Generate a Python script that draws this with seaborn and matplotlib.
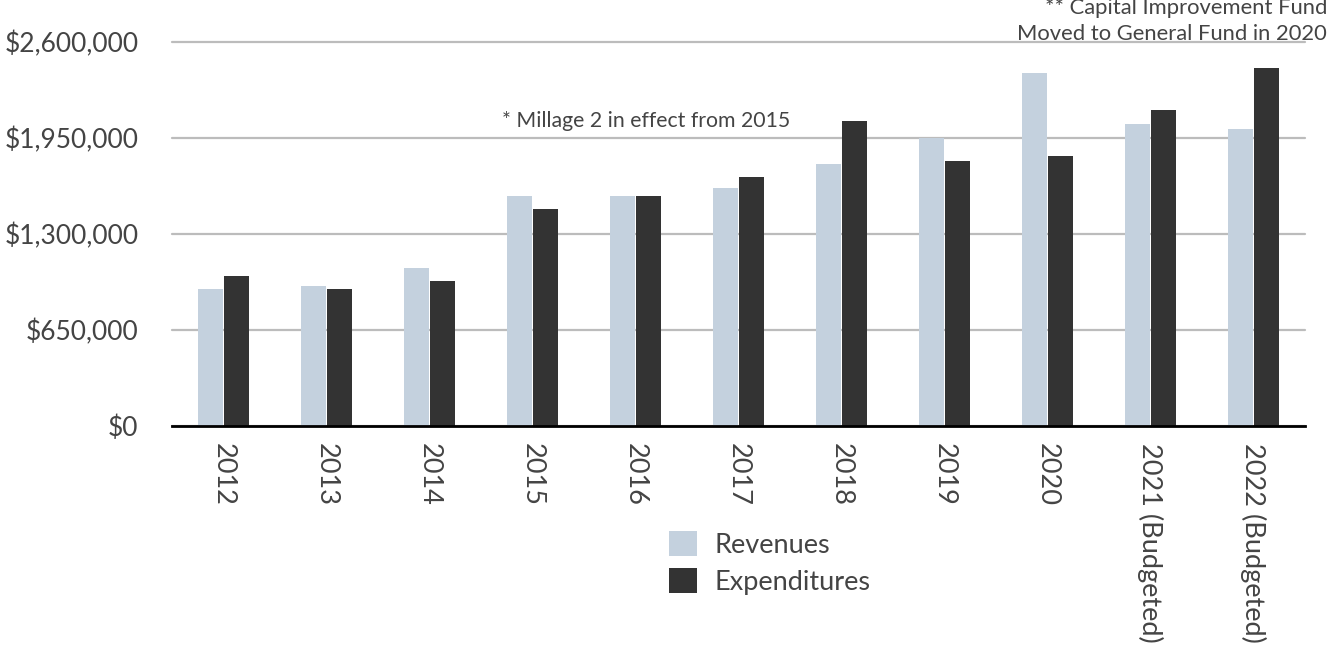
import matplotlib
matplotlib.use("Agg")
import matplotlib.pyplot as plt
import seaborn as sns
import pandas as pd
from matplotlib.patches import Patch
from matplotlib.ticker import FuncFormatter

years = ["2012", "2013", "2014", "2015", "2016", "2017", "2018", "2019", "2020",
         "2021 (Budgeted)", "2022 (Budgeted)"]
revenues = [928000, 949000, 1071000, 1558000, 1558000, 1613000, 1775000, 1947000,
            2392000, 2046000, 2012000]
expenditures = [1016000, 928000, 983000, 1470000, 1558000, 1687000, 2067000, 1796000,
                1830000, 2141000, 2426000]
series_names = ["Revenues", "Expenditures"]
yticks = [0, 650000, 1300000, 1950000, 2600000]
note1 = "* Millage 2 in effect from 2015"
note2 = ["** Capital Improvement Fund", "Moved to General Fund in 2020"]

df = pd.DataFrame({
    "Year": years * 2,
    "Value": revenues + expenditures,
    "Series": [series_names[0]] * len(years) + [series_names[1]] * len(years),
})

sns.set_theme(style="white")
plt.rcParams["font.family"] = ["Lato", "DejaVu Sans"]
TXT = "#444444"
colors = {"Revenues": "#c4d1de", "Expenditures": "#333333"}

fig = plt.figure(figsize=(13.31, 6.49), dpi=100)
ax = fig.add_axes([172 / 1331, 1 - 426 / 649, (1305 - 172) / 1331, (426 - 42) / 649])

sns.barplot(data=df, x="Year", y="Value", hue="Series", order=years,
            hue_order=series_names, palette=colors, width=0.51, gap=0.06,
            saturation=1, ax=ax, legend=False, edgecolor="none")

ax.set_ylim(0, 2600000)
ax.set_xlim(-0.5, len(years) - 0.5)
ax.set_yticks(yticks)
ax.yaxis.set_major_formatter(FuncFormatter(lambda v, p: "${:,.0f}".format(v)))
ax.grid(axis="y", color="#bcbcbc", linewidth=1.6, clip_on=False)
ax.grid(axis="x", visible=False)
ax.set_axisbelow(True)
for s in ["top", "right", "left"]:
    ax.spines[s].set_visible(False)
ax.spines["bottom"].set_color("black")
ax.spines["bottom"].set_linewidth(2)
ax.set_xlabel("")
ax.set_ylabel("")
ax.tick_params(axis="y", length=0, pad=24, labelsize=19, labelcolor=TXT)
ax.tick_params(axis="x", length=0, pad=12, labelsize=19.5, labelcolor=TXT)
for lab in ax.get_xticklabels():
    lab.set_rotation(270)
    lab.set_va("top")
    lab.set_ha("center")

fig.text(646 / 1331, 1 - 121 / 649, note1, ha="center", va="center",
         fontsize=15.3, color=TXT)
fig.text(1327 / 1331, 1 - 8 / 649, note2[0], ha="right", va="center",
         fontsize=15.8, color=TXT)
fig.text(1327 / 1331, 1 - 34 / 649, note2[1], ha="right", va="center",
         fontsize=15.8, color=TXT)

handles = [Patch(facecolor=colors[n], edgecolor="none", label=n) for n in series_names]
fig.legend(handles=handles, loc="upper left",
           bbox_to_anchor=(669 / 1331, 1 - 531 / 649), frameon=False,
           borderpad=0, borderaxespad=0, fontsize=19.5, handlelength=1.05,
           handleheight=1.05, handletextpad=0.62, labelspacing=0.38,
           labelcolor=TXT)

fig.savefig("out.png", dpi=100)
